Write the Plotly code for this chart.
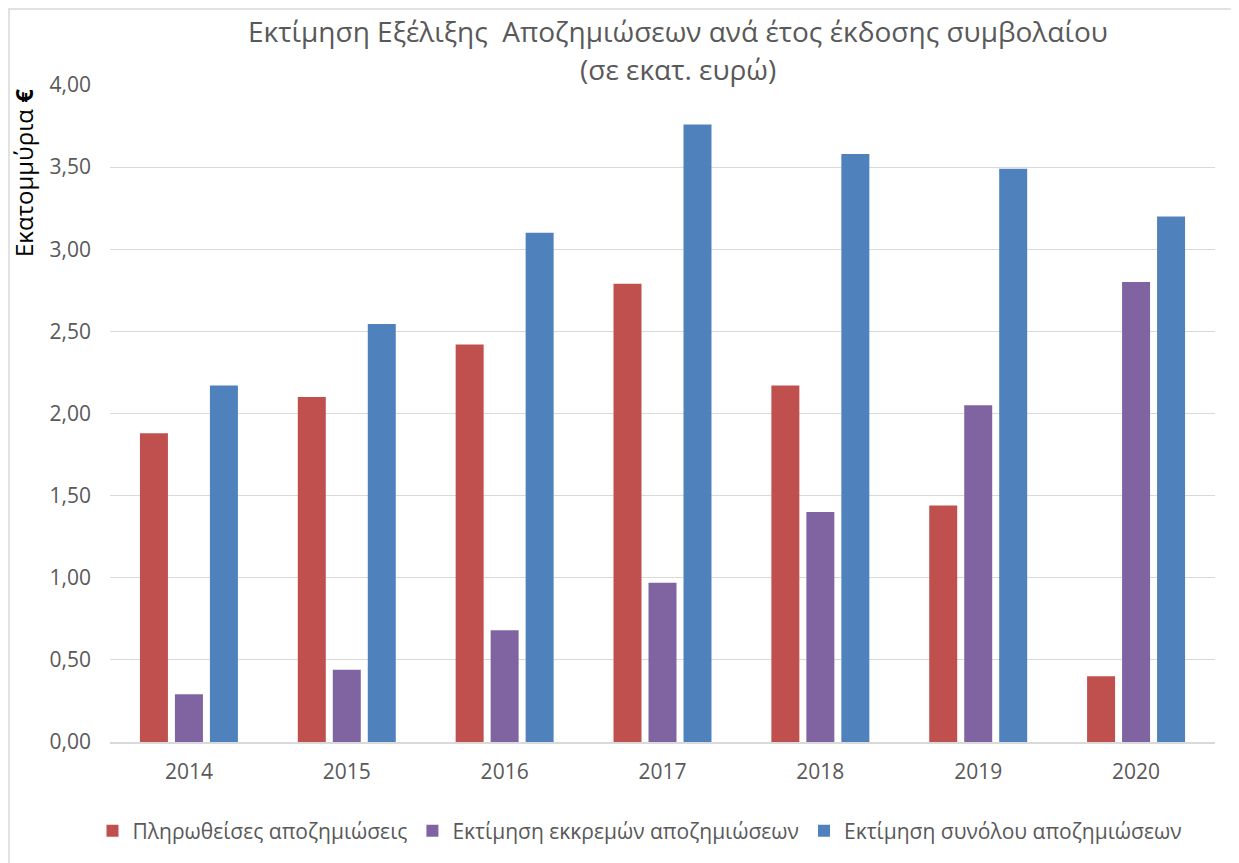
import plotly.graph_objects as go

years = ["2014", "2015", "2016", "2017", "2018", "2019", "2020"]
paid = [1.88, 2.10, 2.42, 2.79, 2.17, 1.44, 0.40]
pending = [0.29, 0.44, 0.68, 0.97, 1.40, 2.05, 2.80]
total = [2.17, 2.545, 3.10, 3.76, 3.58, 3.49, 3.20]

names = ["Πληρωθείσες αποζημιώσεις", "Εκτίμηση εκκρεμών αποζημιώσεων", "Εκτίμηση συνόλου αποζημιώσεων"]
colors = ["#C0504D", "#8064A2", "#4F81BD"]

FONT = "Open Sans"
OFF = 8  # page body margin
W, H = 1239, 863
# plot area in page coords: x 110..1215, y 85..742
L = 110 - OFF
T = 85 - OFF
pw = 1215 - 110
ph = 742 - 85
R = W - L - pw
B = H - T - ph

def px2x(p):
    return (p - OFF - L) / pw

def py2y(p):
    return (T + ph - (p - OFF)) / ph

fig = go.Figure()
for vals, nm, c in zip([paid, pending, total], names, colors):
    fig.add_trace(go.Bar(x=years, y=vals, name=nm, marker=dict(color=c, line=dict(width=0))))

fig.update_layout(
    width=W, height=H,
    margin=dict(l=L, r=R, t=T, b=B),
    paper_bgcolor="white", plot_bgcolor="white",
    barmode="group", bargap=0.335, bargroupgap=0.2,
    separators=",.",
    font=dict(family=FONT, color="#595959", size=21),
    xaxis=dict(showgrid=False, showline=True, linecolor="#D9D9D9", linewidth=2,
               ticks="", tickfont=dict(size=21, color="#595959"), ticklabelstandoff=10),
    yaxis=dict(range=[0, 4.0], dtick=0.5, tickformat=".2f", showgrid=True,
               gridcolor="#D9D9D9", gridwidth=1, zeroline=False, ticks="",
               tickfont=dict(size=21, color="#595959"), ticklabelstandoff=18),
    legend=dict(orientation="h", x=px2x(640), xanchor="center", y=py2y(831), yanchor="middle",
                font=dict(size=21, color="#595959"), itemwidth=30, traceorder="normal"),
    showlegend=True,
)

fig.add_annotation(
    text="Εκτίμηση Εξέλιξης  Αποζημιώσεων ανά έτος έκδοσης συμβολαίου",
    showarrow=False, xref="paper", yref="paper", x=px2x(678), y=py2y(31),
    xanchor="center", yanchor="middle", font=dict(family=FONT, size=28, color="#595959"),
)
fig.add_annotation(
    text="(σε εκατ. ευρώ)",
    showarrow=False, xref="paper", yref="paper", x=px2x(678), y=py2y(69),
    xanchor="center", yanchor="middle", font=dict(family=FONT, size=28, color="#595959"),
)

fig.add_annotation(
    text="Εκατομμύρια <b>€</b>", textangle=-90, showarrow=False,
    xref="paper", yref="paper", x=px2x(23), y=py2y(173),
    xanchor="center", yanchor="middle",
    font=dict(family=FONT, size=24, color="#000000"),
)

fig.add_shape(type="rect", xref="paper", yref="paper",
              x0=px2x(9), x1=px2x(1245), y0=py2y(875), y1=py2y(9),
              line=dict(color="#D9D9D9", width=1.5), fillcolor="rgba(0,0,0,0)", layer="below")

fig.write_html("out.html")
